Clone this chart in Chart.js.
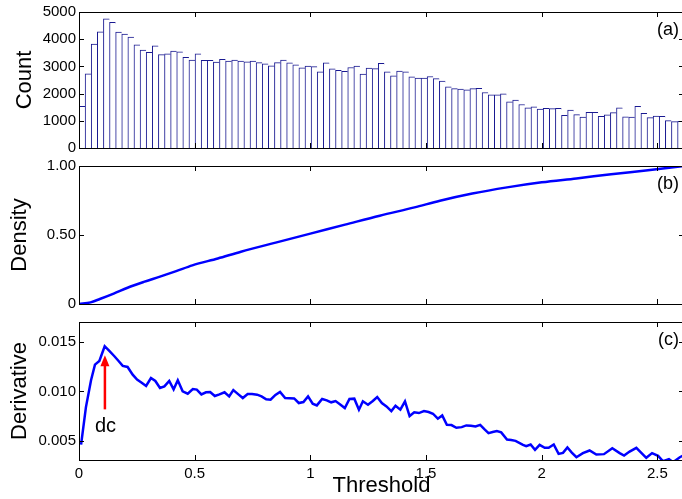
<!DOCTYPE html>
<html>
<head>
<meta charset="utf-8">
<script src="https://cdn.jsdelivr.net/npm/chart.js@4/dist/chart.umd.min.js"></script>
<style>
  body { margin: 0; background: #fff; overflow: hidden; }
  #wrap { position: relative; width: 682px; height: 499px; overflow: hidden; }
  canvas { position: absolute; left: 0; }
</style>
</head>
<body>
<div id="wrap">
  <canvas id="countChart" width="690" height="160" style="top:0"></canvas>
  <canvas id="densityChart" width="690" height="170" style="top:150px"></canvas>
  <canvas id="derivChart" width="690" height="189" style="top:310px"></canvas>
</div>
<script>
// histogram counts, one per bin
const binWidth = 0.0264;
const counts = [
  1530, 2730, 3820, 4270, 4745, 4620, 4260, 4190, 4080, 3790,
  3600, 3520, 3760, 3430, 3460, 3560, 3540, 3330, 3230, 3460,
  3220, 3220, 3160, 3260, 3200, 3230, 3200, 3170, 3200, 3140,
  3090, 3020, 3140, 3230, 3130, 3060, 2950, 3010, 2990, 2800,
  3130, 2910, 2860, 2820, 2960, 3010, 2720, 2940, 2920, 3110,
  2800, 2650, 2830, 2800, 2620, 2570, 2570, 2630, 2550, 2460,
  2245, 2185, 2170, 2135, 2185, 2195, 2040, 1955, 1955, 1990,
  1700, 1760, 1600, 1480, 1515, 1430, 1455, 1445, 1455, 1200,
  1395, 1225, 1140, 1310, 1310, 1165, 1215, 1300, 1480, 1150,
  1140, 1530, 1275, 1115, 1175, 1165, 1005, 970, 985
];

// density curve
const densityX = [0, 0.05, 0.09, 0.15, 0.21, 0.28, 0.35, 0.42, 0.49, 0.6, 0.7, 0.85,
  1.0, 1.15, 1.3, 1.45, 1.56, 1.7, 1.85, 2.0, 2.15, 2.3, 2.45, 2.615];
const densityY = [0, 0.012, 0.036, 0.075, 0.118, 0.16, 0.198, 0.238, 0.28, 0.33, 0.379, 0.445,
  0.51, 0.575, 0.64, 0.70, 0.748, 0.80, 0.845, 0.882, 0.91, 0.94, 0.968, 1.0];

// derivative curve
const derivX = [
  0.009, 0.030, 0.052, 0.069, 0.088, 0.111, 0.131, 0.153, 0.172, 0.189,
  0.210, 0.232, 0.251, 0.271, 0.290, 0.311, 0.330, 0.350, 0.369, 0.390,
  0.409, 0.427, 0.448, 0.470, 0.492, 0.509, 0.529, 0.549, 0.567, 0.587,
  0.607, 0.629, 0.649, 0.667, 0.689, 0.708, 0.729, 0.748, 0.770, 0.789,
  0.809, 0.828, 0.849, 0.869, 0.891, 0.910, 0.930, 0.950, 0.970, 0.990,
  1.010, 1.028, 1.051, 1.071, 1.090, 1.109, 1.129, 1.149, 1.169, 1.190,
  1.210, 1.227, 1.249, 1.270, 1.289, 1.309, 1.329, 1.350, 1.368, 1.389,
  1.409, 1.429, 1.449, 1.469, 1.491, 1.511, 1.530, 1.551, 1.570, 1.590,
  1.610, 1.631, 1.654, 1.674, 1.694, 1.714, 1.734, 1.752, 1.770, 1.788,
  1.806, 1.825, 1.850, 1.868, 1.887, 1.919, 1.933, 1.952, 1.971, 1.991,
  2.013, 2.030, 2.052, 2.073, 2.092, 2.111, 2.130, 2.150, 2.178, 2.207,
  2.236, 2.269, 2.305, 2.337, 2.356, 2.380, 2.409, 2.452, 2.477, 2.503,
  2.524, 2.550, 2.568, 2.597, 2.615
];
const derivY = [
  0.00465, 0.00843, 0.01113, 0.01271, 0.01308, 0.01456, 0.01409, 0.01355, 0.01305, 0.01258,
  0.01247, 0.01170, 0.01120, 0.01089, 0.01056, 0.01136, 0.01106, 0.01035, 0.01052, 0.01106,
  0.01022, 0.01113, 0.01002, 0.00978, 0.01025, 0.01019, 0.00971, 0.00992, 0.00995, 0.00955,
  0.00971, 0.00992, 0.00951, 0.01015, 0.00971, 0.00934, 0.00975, 0.00975, 0.00968, 0.00951,
  0.00921, 0.00917, 0.00966, 0.00995, 0.00934, 0.00932, 0.00930, 0.00884, 0.00894, 0.00951,
  0.00877, 0.00860, 0.00924, 0.00911, 0.00891, 0.00904, 0.00870, 0.00833, 0.00924, 0.00928,
  0.00817, 0.00901, 0.00867, 0.00904, 0.00944, 0.00884, 0.00850, 0.00803, 0.00857, 0.00817,
  0.00901, 0.00753, 0.00790, 0.00783, 0.00803, 0.00793, 0.00776, 0.00726, 0.00759, 0.00665,
  0.00662, 0.00635, 0.00641, 0.00658, 0.00655, 0.00648, 0.00664, 0.00620, 0.00581, 0.00592,
  0.00601, 0.00588, 0.00517, 0.00512, 0.00503, 0.00463, 0.00450, 0.00466, 0.00412, 0.00463,
  0.00433, 0.00433, 0.00466, 0.00372, 0.00382, 0.00436, 0.00385, 0.00338, 0.00379, 0.00406,
  0.00365, 0.00369, 0.00429, 0.00379, 0.00355, 0.00395, 0.00433, 0.00332, 0.00379, 0.00352,
  0.00298, 0.00318, 0.00288, 0.00338, 0.00360
];

// ticks
const thresholdTicks = [0, 0.5, 1, 1.5, 2, 2.5];
const thresholdTickLabels = ['0', '0.5', '1', '1.5', '2', '2.5'];
const countTicks = [0, 1000, 2000, 3000, 4000, 5000];
const countTickLabels = ['0', '1000', '2000', '3000', '4000', '5000'];
const densityTicks = [0, 0.5, 1];
const densityTickLabels = ['0', '0.50', '1.00'];
const derivTicks = [0.005, 0.010, 0.015];
const derivTickLabels = ['0.005', '0.010', '0.015'];

// d_c marker
const dcX = 0.112, dcTip = 0.01366, dcTail = 0.0082;
const dcLabelX = 0.069, dcLabelY = 0.00588;

const X_MAX = 2.615;
const FONT = '"Liberation Sans", Arial, Helvetica, sans-serif';
Chart.defaults.font.family = FONT;
Chart.defaults.color = '#000';

// box around plot with inward ticks, plus (a)/(b)/(c) tag
const framePlugin = {
  id: 'frame',
  afterDraw(chart, args, opts) {
    const { ctx, chartArea: a, scales } = chart;
    ctx.save();
    ctx.strokeStyle = '#000';
    ctx.lineWidth = 1;
    ctx.strokeRect(a.left + 0.5, a.top + 0.5, a.right - a.left, a.bottom - a.top);
    ctx.beginPath();
    for (const v of opts.xTicks) {
      const px = Math.round(scales.x.getPixelForValue(v)) + 0.5;
      ctx.moveTo(px, a.top); ctx.lineTo(px, a.top + 5);
      ctx.moveTo(px, a.bottom); ctx.lineTo(px, a.bottom - 5);
    }
    for (const v of opts.yTicks) {
      const py = Math.round(scales.y.getPixelForValue(v)) + 0.5;
      ctx.moveTo(a.left, py); ctx.lineTo(a.left + 5, py);
      ctx.moveTo(a.right, py); ctx.lineTo(a.right - 5, py);
    }
    ctx.stroke();
    ctx.font = '18px ' + FONT;
    ctx.fillStyle = '#000';
    ctx.textAlign = 'right';
    ctx.textBaseline = 'middle';
    ctx.fillText(opts.tag, a.right - 5, a.top + 18);
    ctx.restore();
  }
};

const dcPlugin = {
  id: 'dcArrow',
  afterDatasetsDraw(chart) {
    const { ctx, scales } = chart;
    const x = scales.x.getPixelForValue(dcX);
    const yTip = scales.y.getPixelForValue(dcTip);
    const yTail = scales.y.getPixelForValue(dcTail);
    ctx.save();
    ctx.strokeStyle = '#ff0000';
    ctx.fillStyle = '#ff0000';
    ctx.lineWidth = 2.5;
    ctx.beginPath();
    ctx.moveTo(x, yTail);
    ctx.lineTo(x, yTip + 9);
    ctx.stroke();
    ctx.beginPath();
    ctx.moveTo(x, yTip);
    ctx.lineTo(x - 4.5, yTip + 11);
    ctx.lineTo(x + 4.5, yTip + 11);
    ctx.closePath();
    ctx.fill();
    ctx.fillStyle = '#000';
    ctx.font = '20px ' + FONT;
    ctx.textAlign = 'left';
    ctx.textBaseline = 'alphabetic';
    ctx.fillText('dc', scales.x.getPixelForValue(dcLabelX), scales.y.getPixelForValue(dcLabelY));
    ctx.restore();
  }
};

function xAxis(showLabels) {
  const axis = {
    type: 'linear', min: 0, max: X_MAX, offset: false,
    display: showLabels,
    grid: { display: false, drawTicks: false }, border: { display: false },
    afterBuildTicks: s => { s.ticks = thresholdTicks.map(v => ({ value: v })); },
    ticks: { font: { size: 15 }, padding: 5, maxRotation: 0, autoSkip: false,
      callback: (v, i) => thresholdTickLabels[i] },
    title: { display: showLabels, text: 'Threshold', font: { size: 22 }, padding: { top: 0, bottom: 0 } }
  };
  if (showLabels) axis.afterFit = s => { s.height = 39; };
  return axis;
}

function yAxis(min, max, ticks, labels, title, titlePad) {
  return {
    min: min, max: max,
    grid: { display: false, drawTicks: false }, border: { display: false },
    afterBuildTicks: s => { s.ticks = ticks.map(v => ({ value: v })); },
    ticks: { font: { size: 15 }, padding: 3, autoSkip: false, callback: (v, i) => labels[i] },
    title: { display: true, text: title, font: { size: 22 }, padding: { top: titlePad, bottom: 0 } },
    afterFit: s => { s.width = 79; }
  };
}

const common = {
  responsive: false,
  animation: false,
  devicePixelRatio: 1,
  events: [],
};

// (a) histogram
new Chart(document.getElementById('countChart'), {
  type: 'bar',
  data: {
    datasets: [{
      data: counts.map((c, i) => ({ x: (i + 0.5) * binWidth, y: c })),
      backgroundColor: '#ffffff',
      borderColor: 'rgb(25,25,145)',
      borderWidth: { top: 1, left: 1, right: 0, bottom: 0 },
      barPercentage: 1,
      categoryPercentage: 1
    }]
  },
  options: Object.assign({}, common, {
    layout: { padding: { top: 11, bottom: 12, left: 0, right: 6 } },
    plugins: { legend: { display: false }, tooltip: { enabled: false },
      frame: { xTicks: thresholdTicks, yTicks: countTicks, tag: '(a)' } },
    scales: {
      x: xAxis(false),
      y: yAxis(0, 5000, countTicks, countTickLabels, 'Count', 12)
    }
  }),
  plugins: [framePlugin]
});

// (b) density
new Chart(document.getElementById('densityChart'), {
  type: 'line',
  data: {
    datasets: [{
      data: densityX.map((x, i) => ({ x: x, y: densityY[i] })),
      borderColor: '#0000ff',
      borderWidth: 2.5,
      pointRadius: 0,
      cubicInterpolationMode: 'monotone',
      fill: false
    }]
  },
  options: Object.assign({}, common, {
    layout: { padding: { top: 16, bottom: 16, left: 0, right: 6 } },
    plugins: { legend: { display: false }, tooltip: { enabled: false },
      frame: { xTicks: thresholdTicks, yTicks: densityTicks, tag: '(b)' } },
    scales: {
      x: xAxis(false),
      y: yAxis(0, 1, densityTicks, densityTickLabels, 'Density', 7)
    }
  }),
  plugins: [framePlugin]
});

// (c) derivative
new Chart(document.getElementById('derivChart'), {
  type: 'line',
  data: {
    datasets: [{
      data: derivX.map((x, i) => ({ x: x, y: derivY[i] })),
      borderColor: '#0000ff',
      borderWidth: 2.5,
      pointRadius: 0,
      tension: 0,
      fill: false
    }]
  },
  options: Object.assign({}, common, {
    layout: { padding: { top: 12, bottom: 0, left: 0, right: 6 } },
    plugins: { legend: { display: false }, tooltip: { enabled: false },
      frame: { xTicks: thresholdTicks, yTicks: derivTicks, tag: '(c)' } },
    scales: {
      x: xAxis(true),
      y: yAxis(0.0031, 0.017, derivTicks, derivTickLabels, 'Derivative', 7)
    }
  }),
  plugins: [framePlugin, dcPlugin]
});
</script>
</body>
</html>
